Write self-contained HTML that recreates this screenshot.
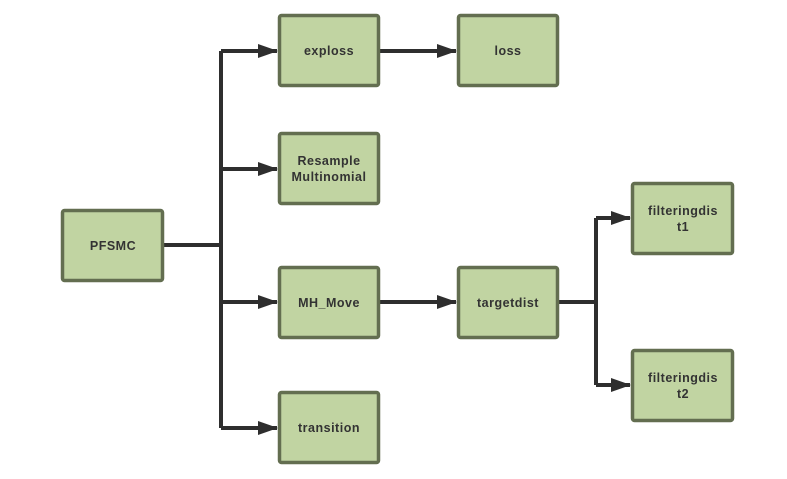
<!DOCTYPE html><html><head><style>body{margin:0;background:#fff}</style></head><body>
<svg width="787" height="474" xmlns="http://www.w3.org/2000/svg" font-family="Liberation Sans, sans-serif" font-weight="bold" font-size="12.5" letter-spacing="0.5" fill="#333">
<defs><marker id="a" markerWidth="20" markerHeight="14" refX="19" refY="7" orient="auto" markerUnits="userSpaceOnUse"><path d="M0,0 L20,7 L0,14 Z" fill="#2e2e2e"/></marker></defs>
<g stroke="#2e2e2e" stroke-width="4" fill="none">
<path d="M164,245 H221"/>
<path d="M221,51 V428"/>
<path d="M221,51 H277" marker-end="url(#a)"/>
<path d="M221,169 H277" marker-end="url(#a)"/>
<path d="M221,302 H277" marker-end="url(#a)"/>
<path d="M221,428 H277" marker-end="url(#a)"/>
<path d="M380,51 H456" marker-end="url(#a)"/>
<path d="M380,302 H456" marker-end="url(#a)"/>
<path d="M559,302 H596"/>
<path d="M596,218 V385"/>
<path d="M596,218 H630" marker-end="url(#a)"/>
<path d="M596,385 H630" marker-end="url(#a)"/>
</g>
<g fill="#c1d4a2" stroke="#636e50" stroke-width="3.5">
<rect x="62.5" y="210.5" width="100" height="70" rx="2"/>
<rect x="279.5" y="15.5" width="99" height="70" rx="2"/>
<rect x="279.5" y="133.5" width="99" height="70" rx="2"/>
<rect x="279.5" y="267.5" width="99" height="70" rx="2"/>
<rect x="279.5" y="392.5" width="99" height="70" rx="2"/>
<rect x="458.5" y="15.5" width="99" height="70" rx="2"/>
<rect x="458.5" y="267.5" width="99" height="70" rx="2"/>
<rect x="632.5" y="183.5" width="100" height="70" rx="2"/>
<rect x="632.5" y="350.5" width="100" height="70" rx="2"/>
</g>
<g text-anchor="middle">
<text x="113" y="250">PFSMC</text>
<text x="329" y="55">exploss</text>
<text x="329" y="165">Resample</text>
<text x="329" y="181">Multinomial</text>
<text x="329" y="307">MH_Move</text>
<text x="329" y="432">transition</text>
<text x="508" y="55">loss</text>
<text x="508" y="307">targetdist</text>
<text x="683" y="215">filteringdis</text>
<text x="683" y="231">t1</text>
<text x="683" y="382">filteringdis</text>
<text x="683" y="398">t2</text>
</g>
</svg></body></html>
